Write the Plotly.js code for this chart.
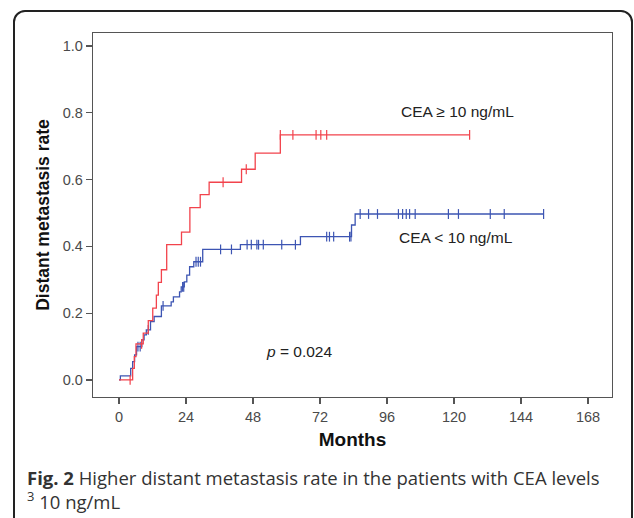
<!DOCTYPE html>
<html>
<head>
<meta charset="utf-8">
<script src="https://cdn.plot.ly/plotly-3.0.1.min.js"></script>
<style>
  html, body { margin: 0; padding: 0; background: #fff; }
  #frame { position: absolute; left: 13px; top: 10px; width: 620px; height: 530px;
           border: 2px solid #222; border-radius: 12px; box-sizing: border-box; }
  #chart { position: absolute; left: 0; top: 0; width: 634px; height: 518px; }
</style>
</head>
<body>
<div id="frame"></div>
<div id="chart"></div>
<script>
// ---- data ----
const highTimes = [0, 4.9, 5.5, 6.1, 8.7, 10.5, 12.1, 13.4, 14.1, 15.2, 17.1, 22.4, 25.4, 29.1, 32.3, 43.9, 48.8, 57.8];
const highRates = [0, 0.035, 0.07, 0.108, 0.14, 0.178, 0.215, 0.254, 0.292, 0.33, 0.405, 0.443, 0.516, 0.555, 0.592, 0.631, 0.679, 0.734];
const highEnd = 125.6;
const highCensored = [4.0, 8.1, 37.3, 45.6, 57.8, 62.3, 70.6, 72.3, 74.4, 125.6];

const lowTimes = [0, 0.5, 4.2, 4.9, 5.6, 6.3, 8.2, 9.0, 9.8, 11.3, 12.6, 15.2, 18.7, 19.5, 21.7, 22.3, 23.4, 24.3, 25.3, 26.8, 30.0, 43.5, 65.0, 83.3, 84.6];
const lowRates = [0, 0.012, 0.035, 0.055, 0.075, 0.1, 0.12, 0.135, 0.15, 0.175, 0.19, 0.222, 0.234, 0.249, 0.264, 0.279, 0.294, 0.314, 0.339, 0.354, 0.391, 0.405, 0.429, 0.464, 0.497];
const lowEnd = 152.1;
const lowCensored = [6.8, 7.6, 10.5, 15.8, 22.8, 23.2, 27.6, 28.4, 29.2, 36.4, 40.3, 45.9, 47.4, 49.4, 50.0, 51.7, 58.3, 63.2,
                     74.4, 75.4, 76.9, 82.6, 83.1, 86.4, 89.4, 92.6, 100.1, 101.6, 102.9, 104.1, 106.1, 118.0, 121.6, 133.0, 138.0, 152.1];

const xTicks = [0, 24, 48, 72, 96, 120, 144, 168];
const yTicks = [0, 0.2, 0.4, 0.6, 0.8, 1.0];

// ---- helpers ----
function stepAt(T, V, t) {
  let v = V[0];
  for (let i = 0; i < T.length; i++) { if (T[i] <= t) v = V[i]; }
  return v;
}
function withEnd(T, V, end) {
  return { x: T.concat([end]), y: V.concat([V[V.length - 1]]) };
}

const red = '#f2434c';
const blue = '#3d55b3';

const hi = withEnd(highTimes, highRates, highEnd);
const lo = withEnd(lowTimes, lowRates, lowEnd);

const traces = [
  { x: lo.x, y: lo.y, mode: 'lines', line: { shape: 'hv', color: blue, width: 1.3 }, hoverinfo: 'skip' },
  { x: lowCensored, y: lowCensored.map(t => stepAt(lowTimes, lowRates, t)), mode: 'markers',
    marker: { symbol: 'line-ns-open', size: 7, color: blue, line: { color: blue, width: 1.2 } } },
  { x: hi.x, y: hi.y, mode: 'lines', line: { shape: 'hv', color: red, width: 1.3 }, hoverinfo: 'skip' },
  { x: highCensored, y: highCensored.map(t => stepAt(highTimes, highRates, t)), mode: 'markers',
    marker: { symbol: 'line-ns-open', size: 7, color: red, line: { color: red, width: 1.2 } } }
];

const sans = 'Liberation Sans, Arial, sans-serif';
const tickFont = { family: sans, size: 14.5, color: '#4a4a4a' };
const labelFont = { family: sans, size: 15.5, color: '#222' };
const captionFont = { family: 'Open Sans, sans-serif', size: 18.5, color: '#333' };

const layout = {
  width: 634, height: 518,
  margin: { l: 93, r: 22, t: 33, b: 121 },
  paper_bgcolor: 'rgba(0,0,0,0)',
  plot_bgcolor: '#fff',
  showlegend: false,
  xaxis: {
    range: [-9.3, 176.6], tickvals: xTicks, ticktext: xTicks.map(String),
    ticks: 'outside', ticklen: 6, tickcolor: '#555', tickwidth: 1.3,
    showline: true, linecolor: '#555', linewidth: 1.3, mirror: true,
    showgrid: false, zeroline: false, tickfont: tickFont,
    title: { text: '<b>Months</b>', font: { family: sans, size: 19, color: '#111' }, standoff: 9 }
  },
  yaxis: {
    range: [-0.051, 1.039], tickvals: yTicks, ticktext: yTicks.map(v => v.toFixed(1)),
    ticks: 'outside', ticklen: 6, tickcolor: '#555', tickwidth: 1.3,
    showline: true, linecolor: '#555', linewidth: 1.3, mirror: true,
    showgrid: false, zeroline: false, tickfont: tickFont,
    title: { text: '<b>Distant metastasis rate</b>', font: { family: sans, size: 17.5, color: '#111' }, standoff: 8 }
  },
  annotations: [
    { x: 121.1, y: 0.805, xref: 'x', yref: 'y', text: 'CEA ≥ 10 ng/mL', showarrow: false, font: labelFont },
    { x: 120.6, y: 0.426, xref: 'x', yref: 'y', text: 'CEA < 10 ng/mL', showarrow: false, font: labelFont },
    { x: 64.5, y: 0.085, xref: 'x', yref: 'y', text: '<i>p</i> = 0.024', showarrow: false, font: labelFont },
    { x: -0.131, y: -0.2225, xref: 'paper', yref: 'paper', xanchor: 'left', yanchor: 'middle', showarrow: false,
      text: '<b>Fig. 2</b> Higher distant metastasis rate in the patients with CEA levels', font: captionFont },
    { x: -0.131, y: -0.283, xref: 'paper', yref: 'paper', xanchor: 'left', yanchor: 'middle', showarrow: false,
      text: '<sup>3</sup> 10 ng/mL', font: captionFont }
  ]
};

Plotly.newPlot('chart', traces, layout, { staticPlot: true, displayModeBar: false });
</script>
</body>
</html>
